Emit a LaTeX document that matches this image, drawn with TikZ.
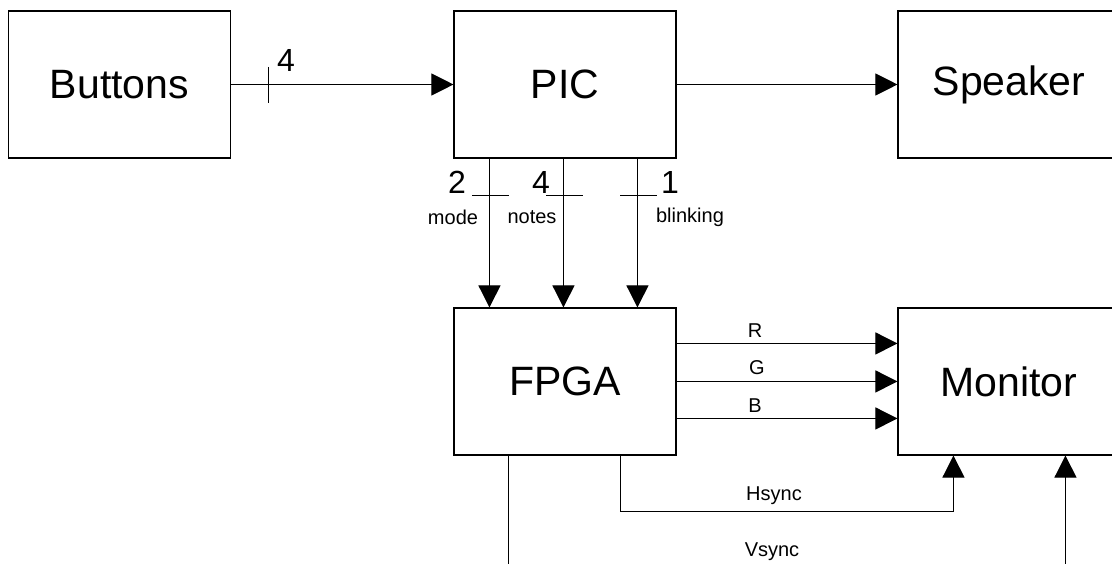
\documentclass[tikz,border=0pt]{standalone}
\usepackage{fontspec}
\setmainfont{Liberation Sans}
\usetikzlibrary{arrows.meta}
\begin{document}
\begin{tikzpicture}[x=1pt,y=-1pt,
  box/.style={draw=black,line width=1.1pt,minimum width=222pt,minimum height=147pt,inner sep=0pt,font=\fontsize{41}{49}\selectfont},
  arr/.style={line width=1pt,-{Triangle[length=22pt,width=22pt]}},
  tick/.style={line width=1pt},
  num/.style={inner sep=0pt,font=\fontsize{32}{38}\selectfont},
  lbl/.style={inner sep=0pt,font=\fontsize{20}{24}\selectfont}]
\useasboundingbox (0,0) rectangle (1112,564);
\clip (0,0) rectangle (1112,564);
% boxes
\node[box] (buttons) at (119.5,84.5) {Buttons};
\node[box] (pic) at (565,84.5) {PIC};
\node[box] (speaker) at (1009,84.5) {Speaker};
\node[box] (fpga) at (565,381.5) {FPGA};
\node[box] (monitor) at (1009,381.5) {Monitor};
% Buttons -> PIC
\draw[arr] (buttons.east) -- (pic.west);
\coordinate (bt1) at (268,67);
\coordinate (bt2) at (268,103);
\draw[tick] (bt1) -- (bt2);
\node[num] (n4a) at (286,60) {4};
% PIC -> Speaker
\draw[arr] (pic.east) -- (speaker.west);
% PIC -> FPGA
\draw[arr] ([xshift=36pt]pic.south west) -- ([xshift=36pt]fpga.north west);
\draw[arr] ([xshift=110pt]pic.south west) -- ([xshift=110pt]fpga.north west);
\draw[arr] ([xshift=184pt]pic.south west) -- ([xshift=184pt]fpga.north west);
\coordinate (t1a) at (472,196); \coordinate (t1b) at (509,196);
\coordinate (t2a) at (546,196); \coordinate (t2b) at (583,196);
\coordinate (t3a) at (620,196); \coordinate (t3b) at (657,196);
\draw[tick] (t1a) -- (t1b);
\draw[tick] (t2a) -- (t2b);
\draw[tick] (t3a) -- (t3b);
\node[num] (n2) at (457,182) {2};
\node[num] (n4b) at (541,182) {4};
\node[num] (n1) at (670,182) {1};
\node[lbl] (lmode) at (453,217) {mode};
\node[lbl] (lnotes) at (532,217) {notes};
\node[lbl] (lblink) at (690,217) {blinking};
% FPGA -> Monitor RGB
\draw[arr] ([yshift=-36pt]fpga.north east) -- ([yshift=-36pt]monitor.north west);
\draw[arr] ([yshift=-74pt]fpga.north east) -- ([yshift=-74pt]monitor.north west);
\draw[arr] ([yshift=-111pt]fpga.north east) -- ([yshift=-111pt]monitor.north west);
\node[lbl] (lr) at (755,331) {R};
\node[lbl] (lg) at (757,368) {G};
\node[lbl] (lb) at (755,406) {B};
% Hsync
\draw[arr] ([xshift=167pt]fpga.south west) -- ++(0,56) -| ([xshift=56pt]monitor.south west);
\node[lbl] (lh) at (774,496) {Hsync};
% Vsync
\draw[arr] ([xshift=55pt]fpga.south west) -- ++(0,130) -| ([xshift=168pt]monitor.south west);
\node[lbl] (lv) at (772,552) {Vsync};
\end{tikzpicture}
\end{document}
